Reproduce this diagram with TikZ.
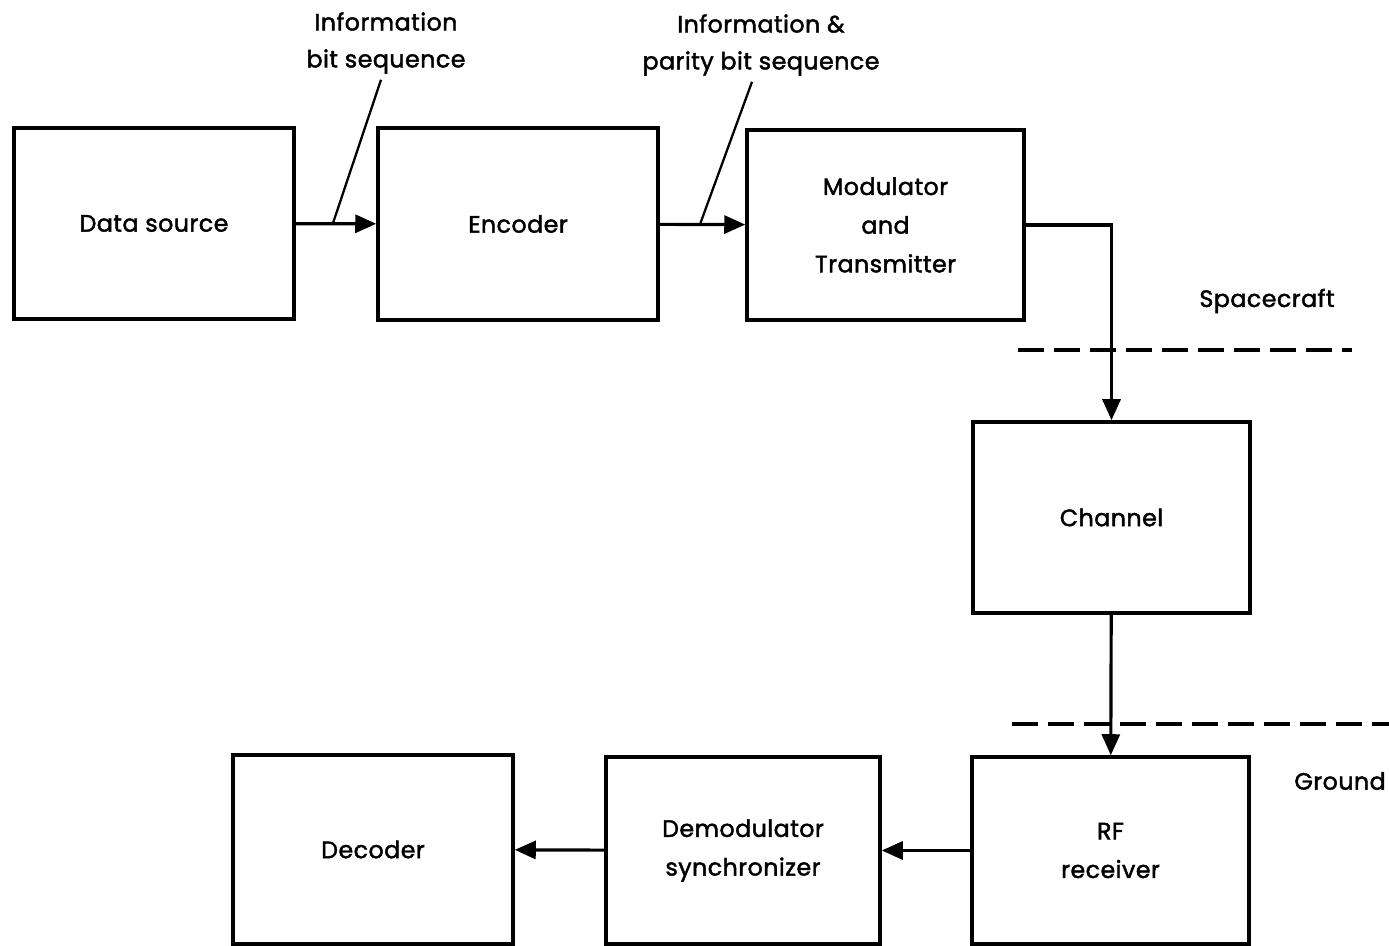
\documentclass[tikz,border=0pt]{standalone}
\usepackage{fontspec}
\setmainfont{Poppins}[LetterSpace=2, FakeBold=1.8]
\usepackage{tikz}
\usetikzlibrary{arrows.meta}

\begin{document}
\begin{tikzpicture}[
        block/.style={draw, rectangle, line width=2pt, align=center, font=\fontsize{13.5}{22}\selectfont},
        flow/.style={line width=1.8pt, -{Triangle[length=0.42cm, width=0.36cm]}},
        lbl/.style={align=center, font=\fontsize{13.5}{21}\selectfont}
    ]
        \useasboundingbox (0,0) rectangle (27.78,18.92);

        % Spacecraft side
        \node[block, minimum width=5.6cm, minimum height=3.82cm] (source) at (3.08,14.45) {Data source};
        \node[block, minimum width=5.6cm, minimum height=3.84cm] (encoder) at (10.36,14.44) {Encoder};
        \node[block, minimum width=5.54cm, minimum height=3.8cm] (modulator) at (17.71,14.42) {Modulator\\and\\Transmitter};

        % Channel
        \node[block, minimum width=5.54cm, minimum height=3.82cm] (channel) at (22.23,8.57) {Channel};

        % Ground side
        \node[block, minimum width=5.54cm, minimum height=3.74cm] (receiver) at (22.21,1.91) {RF\\receiver};
        \node[block, minimum width=5.48cm, minimum height=3.74cm] (demod) at (14.86,1.91) {Demodulator\\synchronizer};
        \node[block, minimum width=5.6cm, minimum height=3.78cm] (decoder) at (7.46,1.93) {Decoder};

        % Arrows
        \draw[flow] (source) -- coordinate[pos=0.46] (infobits) (encoder);
        \draw[flow] (encoder) -- coordinate[pos=0.47] (paritybits) (modulator);
        \draw[flow] (modulator.east) -| (channel.north);
        \draw[flow] (channel) -- (receiver);
        \draw[flow] (receiver) -- (demod);
        \draw[flow] (demod) -- (decoder);

        % Sequence labels
        \node[lbl] (infolabel) at (7.72,18.06) {Information\\bit sequence};
        \node[lbl] (paritylabel) at (15.22,18.02) {Information \&\\parity bit sequence};
        \draw[line width=1.3pt] ([xshift=-0.1cm]infolabel.south) -- (infobits);
        \draw[line width=1.3pt] ([xshift=-0.18cm]paritylabel.south) -- (paritybits);

        % Spacecraft / Ground boundaries
        \draw[line width=2pt, dash pattern=on 0.52cm off 0.2cm] (20.36,11.92) -- (27.04,11.92);
        \draw[line width=2pt, dash pattern=on 0.52cm off 0.2cm] (20.24,4.44) -- (27.78,4.44);
        \node[lbl] (spacecraft) at (25.34,12.9) {Spacecraft};
        \node[lbl] (ground) at (26.8,3.3) {Ground};
    \end{tikzpicture}
\end{document}
